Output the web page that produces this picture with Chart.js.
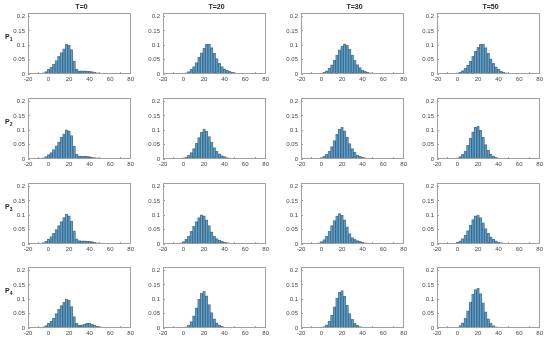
<!DOCTYPE html>
<html>
<head>
<meta charset="utf-8">
<script src="https://cdn.jsdelivr.net/npm/chart.js@4/dist/chart.umd.min.js"></script>
<style>
  body { margin: 0; background: #fff; }
  #wrap { position: relative; width: 550px; height: 341px; overflow: hidden; font-family: "Liberation Sans", Arial, sans-serif; }
  #wrap canvas { position: absolute; }
  .frame { position: absolute; box-sizing: border-box; border: 1px solid #a0a0a0; pointer-events: none; }
  .ttl { position: absolute; font-size: 7px; font-weight: bold; color: #222; text-align: center; width: 60px; }
  .row { position: absolute; font-size: 7px; font-weight: bold; color: #222; }
  .row sub { font-size: 5px; }
</style>
</head>
<body>
<div id="wrap"></div>
<script>
// histogram bin centres
var bins = [-17.5, -15, -12.5, -10, -7.5, -5, -2.5, 0, 2.5, 5, 7.5, 10, 12.5, 15, 17.5, 20, 22.5, 25,
            27.5, 30, 32.5, 35, 37.5, 40, 42.5, 45, 47.5, 50, 52.5, 55, 57.5, 60, 62.5, 65, 67.5, 70];

var times = ['T=0', 'T=20', 'T=30', 'T=50'];
var rowNames = ['1', '2', '3', '4'];
var xTicks = [-20, 0, 20, 40, 60, 80];
var yTicks = [0, 0.05, 0.1, 0.15, 0.2];

// p1
var p1T0  = [0,0,0,0.001,0.002,0.004,0.008,0.016,0.024,0.035,0.047,0.062,0.075,0.088,0.103,0.1,0.085,0.045,0.016,0.011,0.011,0.011,0.01,0.009,0.008,0.006,0.004,0.003,0.002,0.002,0.001,0.001,0.0006,0.0003,0,0];
var p1T20 = [0,0,0,0,0.001,0.001,0.001,0.002,0.004,0.008,0.016,0.026,0.04,0.058,0.074,0.09,0.103,0.104,0.092,0.072,0.054,0.037,0.026,0.018,0.013,0.009,0.006,0.004,0.003,0.002,0.001,0.001,0,0,0,0];
var p1T30 = [0,0,0,0,0.001,0.001,0.002,0.003,0.006,0.011,0.02,0.032,0.048,0.066,0.084,0.097,0.105,0.1,0.086,0.066,0.048,0.033,0.022,0.014,0.009,0.006,0.004,0.003,0.002,0.001,0.001,0,0,0,0,0];
var p1T50 = [0,0,0,0,0.001,0.001,0.002,0.004,0.007,0.012,0.02,0.031,0.045,0.062,0.079,0.093,0.103,0.104,0.092,0.072,0.053,0.037,0.025,0.016,0.01,0.006,0.004,0.002,0.001,0.001,0,0,0,0,0,0];
// p2
var p2T0  = [0,0,0,0.001,0.002,0.004,0.008,0.015,0.022,0.033,0.046,0.06,0.076,0.088,0.102,0.098,0.082,0.045,0.017,0.01,0.009,0.009,0.009,0.008,0.007,0.005,0.004,0.003,0.002,0.0015,0.001,0.001,0.0005,0.0003,0,0];
var p2T20 = [0,0,0,0,0.001,0.001,0.002,0.004,0.007,0.013,0.022,0.036,0.055,0.075,0.094,0.104,0.096,0.078,0.058,0.04,0.027,0.018,0.012,0.008,0.005,0.003,0.002,0.001,0.001,0,0,0,0,0,0,0];
var p2T30 = [0,0,0,0,0.001,0.002,0.003,0.005,0.009,0.016,0.027,0.043,0.064,0.086,0.104,0.11,0.098,0.076,0.054,0.036,0.023,0.014,0.009,0.006,0.004,0.002,0.001,0.001,0,0,0,0,0,0,0,0];
var p2T50 = [0,0,0,0,0.001,0.001,0.002,0.004,0.008,0.016,0.028,0.048,0.072,0.095,0.11,0.114,0.1,0.076,0.05,0.03,0.017,0.01,0.006,0.003,0.002,0.001,0,0,0,0,0,0,0,0,0,0];
// p3
var p3T0  = [0,0,0,0.001,0.002,0.005,0.009,0.017,0.026,0.037,0.05,0.064,0.078,0.092,0.104,0.098,0.08,0.046,0.018,0.012,0.011,0.011,0.01,0.009,0.008,0.006,0.004,0.003,0.002,0.0015,0.001,0.0008,0.0005,0.0003,0,0];
var p3T20 = [0,0,0,0,0.001,0.002,0.004,0.008,0.016,0.028,0.044,0.062,0.078,0.092,0.102,0.098,0.084,0.064,0.042,0.027,0.019,0.014,0.01,0.007,0.005,0.003,0.002,0.001,0.001,0,0,0,0,0,0,0];
var p3T30 = [0,0,0,0,0.001,0.002,0.004,0.008,0.015,0.027,0.044,0.064,0.082,0.097,0.106,0.1,0.084,0.06,0.036,0.022,0.016,0.012,0.009,0.006,0.004,0.003,0.002,0.001,0.001,0,0,0,0,0,0,0];
var p3T50 = [0,0,0,0,0.001,0.002,0.003,0.006,0.011,0.019,0.031,0.047,0.066,0.085,0.098,0.101,0.092,0.074,0.054,0.037,0.025,0.017,0.011,0.007,0.005,0.003,0.002,0.001,0.001,0,0,0,0,0,0,0];
// p4
var p4T0  = [0,0,0,0.001,0.002,0.004,0.008,0.016,0.024,0.035,0.05,0.065,0.078,0.09,0.101,0.096,0.075,0.04,0.016,0.01,0.011,0.014,0.016,0.017,0.014,0.01,0.007,0.004,0.003,0.002,0.001,0.001,0.0005,0,0,0];
var p4T20 = [0,0,0,0,0,0.001,0.001,0.002,0.004,0.01,0.022,0.042,0.07,0.1,0.122,0.129,0.112,0.082,0.054,0.032,0.018,0.01,0.006,0.003,0.002,0.001,0,0,0,0,0,0,0,0,0,0];
var p4T30 = [0,0,0,0,0,0.001,0.001,0.002,0.005,0.011,0.024,0.045,0.074,0.104,0.124,0.13,0.11,0.08,0.05,0.03,0.016,0.009,0.005,0.003,0.001,0.001,0,0,0,0,0,0,0,0,0,0];
var p4T50 = [0,0,0,0,0,0.001,0.001,0.003,0.008,0.018,0.034,0.06,0.09,0.118,0.134,0.138,0.12,0.088,0.056,0.032,0.016,0.008,0.004,0.002,0.001,0,0,0,0,0,0,0,0,0,0,0];

var panels = [
    [p1T0, p1T20, p1T30, p1T50],
    [p2T0, p2T20, p2T30, p2T50],
    [p3T0, p3T20, p3T30, p3T50],
    [p4T0, p4T20, p4T30, p4T50]
];

// layout of the axes boxes
var colLeft = [28, 163, 301, 437];
var rowTop = [13, 98, 183, 267];
var plotW = 103, plotH = 61;
var yAxisW = 22, xAxisH = 12, padTop = 5, padRight = 7;

var tickFont = { family: 'Liberation Sans', size: 6 };
var tickColor = '#444';
var frameColor = '#a0a0a0';

var wrap = document.getElementById('wrap');

function makePanel(r, c, values) {
    var canvas = document.createElement('canvas');
    var w = yAxisW + plotW + padRight, h = padTop + plotH + xAxisH;
    canvas.width = w; canvas.height = h;
    canvas.style.width = w + 'px'; canvas.style.height = h + 'px';
    canvas.style.left = (colLeft[c] - yAxisW) + 'px';
    canvas.style.top = (rowTop[r] - padTop) + 'px';
    wrap.appendChild(canvas);

    // axes box on top of the canvas
    var frame = document.createElement('div');
    frame.className = 'frame';
    frame.style.left = colLeft[c] + 'px';
    frame.style.top = rowTop[r] + 'px';
    frame.style.width = plotW + 'px';
    frame.style.height = plotH + 'px';
    wrap.appendChild(frame);

    var points = [];
    bins.forEach(function (b, i) {
        if (values[i] > 0) points.push({ x: b, y: values[i] });
    });

    new Chart(canvas.getContext('2d'), {
        type: 'bar',
        data: {
            datasets: [{
                data: points,
                backgroundColor: 'rgba(0, 114, 189, 0.6)',
                borderColor: 'rgba(30, 30, 30, 0.55)',
                borderWidth: 0.5,
                barPercentage: 1,
                categoryPercentage: 1
            }]
        },
        options: {
            responsive: false,
            animation: false,
            devicePixelRatio: 1,
            layout: { padding: { top: padTop, right: padRight, left: 0, bottom: 0 } },
            plugins: { legend: { display: false }, tooltip: { enabled: false } },
            scales: {
                x: {
                    type: 'linear', min: -20, max: 80, offset: false,
                    afterBuildTicks: function (s) { s.ticks = xTicks.map(function (v) { return { value: v }; }); },
                    ticks: { font: tickFont, color: tickColor, padding: 4, maxRotation: 0, autoSkip: false },
                    grid: { display: true, drawOnChartArea: false, drawTicks: true, tickLength: -2, color: frameColor },
                    border: { display: false },
                    afterFit: function (s) { s.height = xAxisH; }
                },
                y: {
                    min: 0, max: 0.2,
                    afterBuildTicks: function (s) { s.ticks = yTicks.map(function (v) { return { value: v }; }); },
                    ticks: {
                        font: tickFont, color: tickColor, padding: 5,
                        callback: function (v) { return String(+Number(v).toFixed(2)); }
                    },
                    grid: { display: true, drawOnChartArea: false, drawTicks: true, tickLength: -2, color: frameColor },
                    border: { display: false },
                    afterFit: function (s) { s.width = yAxisW; }
                }
            }
        }
    });
}

for (var r = 0; r < 4; r++) {
    for (var c = 0; c < 4; c++) {
        makePanel(r, c, panels[r][c]);
    }
}

times.forEach(function (t, c) {
    var d = document.createElement('div');
    d.className = 'ttl';
    d.textContent = t;
    d.style.left = (colLeft[c] + plotW / 2 - 30 + 2) + 'px';
    d.style.top = '3px';
    wrap.appendChild(d);
});

rowNames.forEach(function (n, r) {
    var d = document.createElement('div');
    d.className = 'row';
    d.innerHTML = 'P<sub>' + n + '</sub>';
    d.style.left = '5px';
    d.style.top = (rowTop[r] + 20) + 'px';
    wrap.appendChild(d);
});
</script>
</body>
</html>
